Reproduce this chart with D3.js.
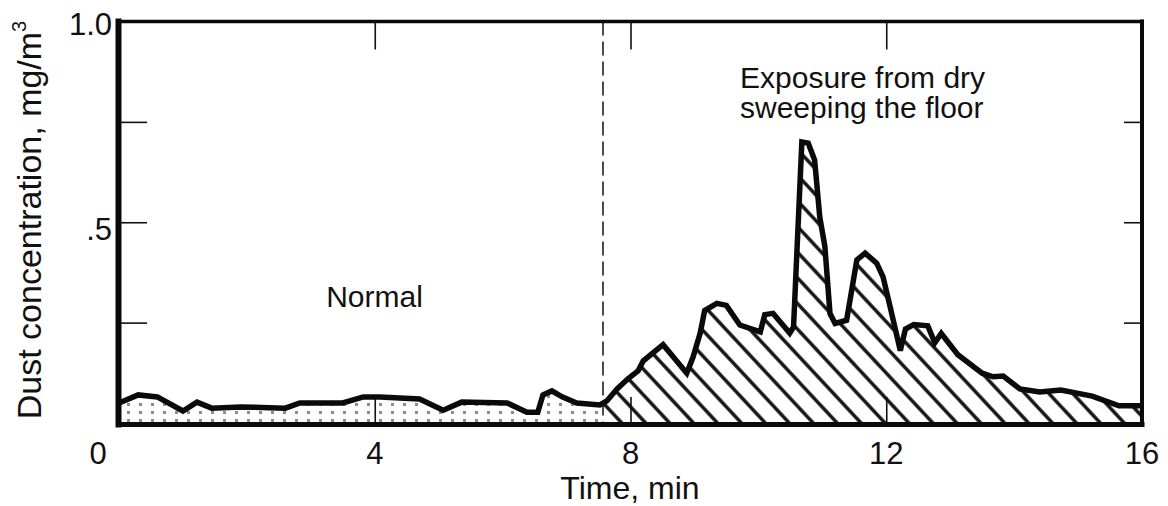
<!DOCTYPE html>
<html><head><meta charset="utf-8">
<script src="https://cdn.jsdelivr.net/npm/d3@7"></script>
<style>
body{margin:0;background:#fff;}
text{font-family:"Liberation Sans", Arial, Helvetica, sans-serif; fill:#111;}
</style>
</head><body>
<svg id="chart" width="1168" height="506"></svg>
<script>
// ---- data ----
const times = [0, 0.3, 0.6, 1.0, 1.22, 1.45, 1.9, 2.6, 2.83, 3.5, 3.82, 4.08, 4.7, 5.07, 5.36, 6.07, 6.38, 6.55, 6.63, 6.77, 6.93, 7.16, 7.52, 7.63, 7.79, 7.96, 8.12, 8.2, 8.51, 8.88, 8.98, 9.09, 9.16, 9.35, 9.5, 9.71, 10.03, 10.1, 10.23, 10.34, 10.49, 10.55, 10.68, 10.78, 10.88, 10.96, 11.04, 11.12, 11.2, 11.38, 11.54, 11.67, 11.85, 11.95, 12.06, 12.22, 12.3, 12.43, 12.65, 12.76, 12.86, 13.12, 13.5, 13.67, 13.83, 14.09, 14.4, 14.73, 15.22, 15.64, 16];
const concentration = [0.05, 0.07, 0.065, 0.03, 0.052, 0.037, 0.04, 0.037, 0.05, 0.05, 0.065, 0.065, 0.06, 0.032, 0.052, 0.05, 0.027, 0.027, 0.07, 0.08, 0.065, 0.05, 0.045, 0.055, 0.085, 0.11, 0.13, 0.155, 0.195, 0.124, 0.165, 0.224, 0.28, 0.298, 0.293, 0.244, 0.227, 0.27, 0.273, 0.252, 0.224, 0.239, 0.70, 0.697, 0.655, 0.513, 0.44, 0.273, 0.248, 0.256, 0.406, 0.423, 0.398, 0.364, 0.29, 0.18, 0.234, 0.245, 0.242, 0.2, 0.223, 0.17, 0.124, 0.115, 0.117, 0.085, 0.077, 0.082, 0.067, 0.043, 0.043];
const switchTime = 7.57;
const xTickValues = [0, 4, 8, 12, 16];
const xTickLabels = ["0", "4", "8", "12", "16"];
const innerXTicks = [4, 8, 12];
const innerYTicks = [0.25, 0.5, 0.75];
const yLabelValues = [1.0, 0.5];
const yLabelTexts = ["1.0", ".5"];
const normalLabel = "Normal";
const exposureLabel = ["Exposure from dry", "sweeping the floor"];
const xTitle = "Time, min";
const yTitle = "Dust concentration, mg/m";

// ---- layout ----
const svg = d3.select("#chart");
const x = d3.scaleLinear().domain([0, 16]).range([119, 1142]);
const y = d3.scaleLinear().domain([0, 1]).range([423, 21.5]);
const data = times.map((t, i) => ({t, v: concentration[i]}));

const defs = svg.append("defs");
const dots = defs.append("pattern").attr("id", "dots")
  .attr("patternUnits", "userSpaceOnUse")
  .attr("x", 127).attr("y", 419)
  .attr("width", 12).attr("height", 8);
dots.append("rect").attr("width", 3).attr("height", 3).attr("fill", "#8c8c8c");

const hatch = defs.append("pattern").attr("id", "hatch")
  .attr("patternUnits", "userSpaceOnUse")
  .attr("width", 40).attr("height", 17.5)
  .attr("patternTransform", "rotate(47)");
hatch.append("line").attr("x1", 0).attr("x2", 40).attr("y1", 8.75).attr("y2", 8.75)
  .attr("stroke", "#111").attr("stroke-width", 3.4);

defs.append("clipPath").attr("id", "clipL").append("rect")
  .attr("x", x(0)).attr("y", 0).attr("width", x(switchTime) - x(0)).attr("height", 506);
defs.append("clipPath").attr("id", "clipR").append("rect")
  .attr("x", x(switchTime)).attr("y", 0).attr("width", x(16) - x(switchTime)).attr("height", 506);

const area = d3.area().x(d => x(d.t)).y0(y(0)).y1(d => y(d.v));
const line = d3.line().x(d => x(d.t)).y(d => y(d.v));

svg.append("path").datum(data).attr("d", area).attr("fill", "url(#dots)").attr("clip-path", "url(#clipL)");
svg.append("path").datum(data).attr("d", area).attr("fill", "url(#hatch)").attr("clip-path", "url(#clipR)");

// inward ticks
const tickStyle = g => { g.select(".domain").remove(); g.selectAll("line").attr("stroke", "#111").attr("stroke-width", 1.6); };
svg.append("g").attr("transform", `translate(0,${y(0)})`)
  .call(d3.axisBottom(x).tickValues(innerXTicks).tickSize(-26).tickFormat(""))
  .call(tickStyle);
svg.append("g").attr("transform", `translate(0,${y(1)})`)
  .call(d3.axisTop(x).tickValues(innerXTicks).tickSize(-28).tickFormat(""))
  .call(tickStyle);
svg.append("g").attr("transform", `translate(${x(0)},0)`)
  .call(d3.axisLeft(y).tickValues(innerYTicks).tickSize(-28).tickFormat(""))
  .call(tickStyle);
svg.append("g").attr("transform", `translate(${x(16)},0)`)
  .call(d3.axisRight(y).tickValues(innerYTicks).tickSize(-18).tickFormat(""))
  .call(tickStyle);

// curve
svg.append("path").datum(data).attr("d", line)
  .attr("fill", "none").attr("stroke", "#0a0a0a").attr("stroke-width", 5.5)
  .attr("stroke-linejoin", "miter").attr("stroke-miterlimit", 3);

// dashed divider
svg.append("line").attr("x1", x(switchTime)).attr("x2", x(switchTime))
  .attr("y1", y(1)).attr("y2", y(0))
  .attr("stroke", "#111").attr("stroke-width", 1.5).attr("stroke-dasharray", "14,6");

// frame
const fr = svg.append("g").attr("stroke", "#0a0a0a").attr("stroke-linecap", "square");
fr.append("line").attr("x1", x(0) - 0.5).attr("x2", x(0) - 0.5).attr("y1", y(1)).attr("y2", y(0) + 1.5).attr("stroke-width", 6);
fr.append("line").attr("x1", x(0)).attr("x2", x(16)).attr("y1", y(0) + 1.5).attr("y2", y(0) + 1.5).attr("stroke-width", 5);
fr.append("line").attr("x1", x(16)).attr("x2", x(16)).attr("y1", y(1)).attr("y2", y(0) + 1.5).attr("stroke-width", 4);
fr.append("line").attr("x1", x(0)).attr("x2", x(16)).attr("y1", y(1)).attr("y2", y(1)).attr("stroke-width", 3.5);

// x tick labels
svg.append("g").selectAll("text").data(xTickValues).join("text")
  .attr("x", (d, i) => x(d) - (d === 0 ? 21 : 0))
  .attr("y", 464)
  .attr("text-anchor", "middle").attr("font-size", 31)
  .text((d, i) => xTickLabels[i]);

// y tick labels
svg.append("g").selectAll("text").data(yLabelValues).join("text")
  .attr("x", 112)
  .attr("y", d => y(d) + (d === 1 ? 13.5 : 18))
  .attr("text-anchor", "end").attr("font-size", 31)
  .text((d, i) => yLabelTexts[i]);

// axis titles
svg.append("text").attr("x", 630).attr("y", 499).attr("text-anchor", "middle")
  .attr("font-size", 32).text(xTitle);
const yt = svg.append("text").attr("transform", "translate(41,220) rotate(-90)")
  .attr("text-anchor", "middle").attr("font-size", 34);
yt.append("tspan").text(yTitle);
yt.append("tspan").attr("font-size", 20).attr("dy", -15).text("3");

// annotations
svg.append("text").attr("x", 374.5).attr("y", 307).attr("text-anchor", "middle")
  .attr("font-size", 30).text(normalLabel);
svg.append("g").selectAll("text").data(exposureLabel).join("text")
  .attr("x", 740).attr("y", (d, i) => 88 + i * 30)
  .attr("font-size", 30).text(d => d);
</script>
</body></html>
